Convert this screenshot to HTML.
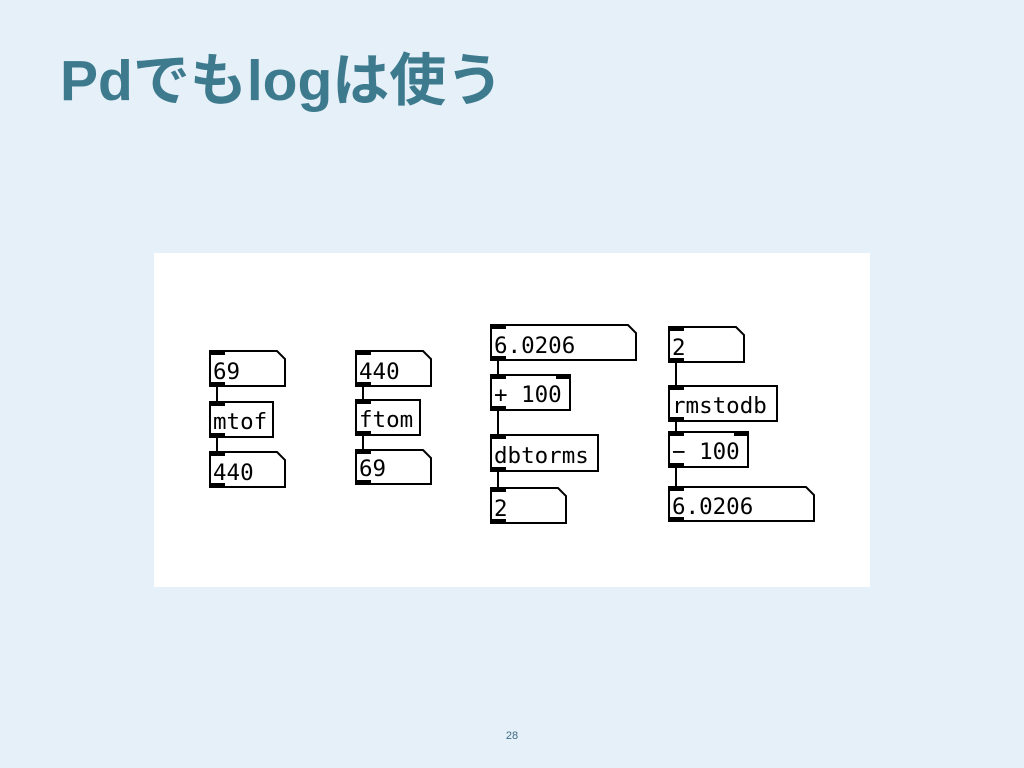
<!DOCTYPE html>
<html><head><meta charset="utf-8"><style>
html,body{margin:0;padding:0;}
body{width:1024px;height:768px;background:#e5f0f8;position:relative;overflow:hidden;}
.t{position:absolute;left:60px;top:35px;font-family:"Liberation Sans","Noto Sans CJK JP",sans-serif;font-weight:bold;font-size:57px;color:#3d7a8e;white-space:nowrap;letter-spacing:0px;}
.pn{position:absolute;left:0;width:1024px;top:730px;text-align:center;font-family:"Liberation Sans",sans-serif;font-size:11px;color:#3d6a80;}
svg{position:absolute;left:0;top:0;}
text{font-family:"DejaVu Sans Mono","Liberation Mono",monospace;font-size:22.5px;fill:#000;}
</style></head><body>
<div class="t">Pdでもlogは使う</div>
<div class="pn">28</div>
<svg width="1024" height="768">
<rect x="154" y="253" width="716" height="334" fill="#fff"/>
<g stroke="#000" stroke-width="2" fill="none">
<line x1="217" y1="386" x2="217" y2="402"/><line x1="217" y1="437" x2="217" y2="452"/>
<line x1="363" y1="386" x2="363" y2="400"/><line x1="363" y1="435" x2="363" y2="450"/>
<line x1="498" y1="360" x2="498" y2="375"/><line x1="498" y1="410" x2="498" y2="435"/><line x1="498" y1="471" x2="498" y2="488"/>
<line x1="676" y1="362" x2="676" y2="386"/><line x1="676" y1="421" x2="676" y2="432"/><line x1="676" y1="467" x2="676" y2="487"/>
<path d="M210 351H277L285 359V386H210Z"/>
<path d="M210 452H277L285 460V487H210Z"/>
<path d="M356 351H423L431 359V386H356Z"/>
<path d="M356 450H423L431 458V484H356Z"/>
<path d="M491 325H628L636 333V360H491Z"/>
<path d="M491 488H558L566 496V523H491Z"/>
<path d="M669 327H736L744 335V362H669Z"/>
<path d="M669 487H806L814 495V521H669Z"/>
<rect x="210" y="402" width="63" height="35"/>
<rect x="356" y="400" width="64" height="35"/>
<rect x="491" y="375" width="79" height="35"/>
<rect x="491" y="435" width="107" height="36"/>
<rect x="669" y="386" width="108" height="35"/>
<rect x="669" y="432" width="79" height="35"/>
</g>
<g fill="#000">
<rect x="210" y="350" width="15" height="5"/><rect x="210" y="382" width="15" height="5"/>
<rect x="210" y="401" width="15" height="5"/><rect x="210" y="433" width="15" height="5"/>
<rect x="210" y="451" width="15" height="5"/><rect x="210" y="483" width="15" height="5"/>
<rect x="356" y="350" width="15" height="5"/><rect x="356" y="382" width="15" height="5"/>
<rect x="356" y="399" width="15" height="5"/><rect x="356" y="431" width="15" height="5"/>
<rect x="356" y="449" width="15" height="5"/><rect x="356" y="480" width="15" height="5"/>
<rect x="491" y="324" width="15" height="5"/><rect x="491" y="356" width="15" height="5"/>
<rect x="491" y="374" width="15" height="5"/><rect x="556" y="374" width="15" height="5"/><rect x="491" y="406" width="15" height="5"/>
<rect x="491" y="434" width="15" height="5"/><rect x="491" y="467" width="15" height="5"/>
<rect x="491" y="487" width="15" height="5"/><rect x="491" y="519" width="15" height="5"/>
<rect x="669" y="326" width="15" height="5"/><rect x="669" y="358" width="15" height="5"/>
<rect x="669" y="385" width="15" height="5"/><rect x="669" y="417" width="15" height="5"/>
<rect x="669" y="431" width="15" height="5"/><rect x="734" y="431" width="15" height="5"/><rect x="669" y="463" width="15" height="5"/>
<rect x="669" y="486" width="15" height="5"/><rect x="669" y="517" width="15" height="5"/>
</g>
<text x="213" y="379">69</text>
<text x="213" y="429">mtof</text>
<text x="213" y="480">440</text>
<text x="359" y="379">440</text>
<text x="359" y="427">ftom</text>
<text x="359" y="476">69</text>
<text x="494" y="353">6.0206</text>
<text x="494" y="402">+ 100</text>
<text x="494" y="463">dbtorms</text>
<text x="494" y="516">2</text>
<text x="672" y="355">2</text>
<text x="672" y="413">rmstodb</text>
<text x="672" y="459">− 100</text>
<text x="672" y="514">6.0206</text>
</svg>
</body></html>
